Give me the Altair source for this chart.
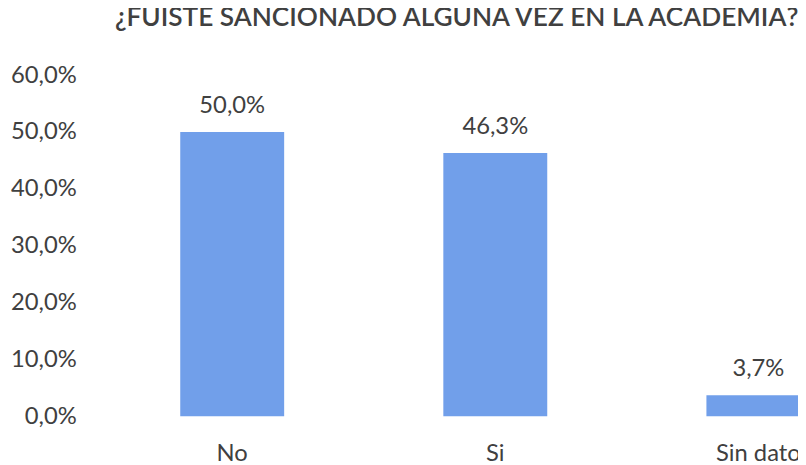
import altair as alt
import pandas as pd

categories = ["No", "Si", "Sin dato"]
values = [0.500, 0.463, 0.037]
labels = ["50,0%", "46,3%", "3,7%"]

df = pd.DataFrame({"cat": categories, "val": values, "lab": labels})

FONT = "Lato"
BAR = "#719FEA"
TXT = "#404040"

x = alt.X("cat:N", sort=categories,
          scale=alt.Scale(range=[16.6, 813.85], paddingInner=0.605, paddingOuter=0.3025),
          axis=alt.Axis(title=None, labelAngle=0, domain=False, ticks=False,
                        labelFont=FONT, labelFontSize=24, labelColor=TXT, labelPadding=26))
y = alt.Y("val:Q", scale=alt.Scale(domain=[0, 0.6]),
          axis=alt.Axis(title=None, grid=False, domain=False, ticks=False,
                        values=[0, 0.1, 0.2, 0.3, 0.4, 0.5, 0.6],
                        labelExpr="replace(format(datum.value, '.1%'), '.', ',')",
                        labelFont=FONT, labelFontSize=24, labelColor=TXT, labelPadding=8))

bars = alt.Chart(df).mark_bar(color=BAR).encode(x=x, y=y)
text = alt.Chart(df).mark_text(font=FONT, fontSize=24, color=TXT, baseline="alphabetic", dy=-19).encode(
    x=alt.X("cat:N", sort=categories), y="val:Q", text="lab:N")

chart = (bars + text).properties(
    width=721, height=344.4,
    autosize=alt.AutoSizeParams(type="none"),
    padding={"left": 77, "top": 65.6, "right": 0, "bottom": 47},
    title=alt.TitleParams("¿FUISTE SANCIONADO ALGUNA VEZ EN LA ACADEMIA?", anchor="start",
                          frame="group", dx=31, font=FONT, fontSize=26.5, fontWeight=600,
                          color="#404040", offset=32),
    background="white",
).configure_view(stroke=None)

chart.save("out.html", embed_options={"renderer": "svg", "actions": False})
